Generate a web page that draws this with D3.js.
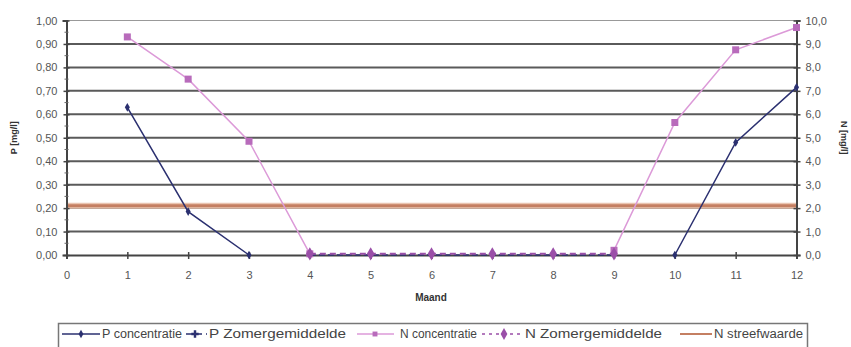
<!DOCTYPE html>
<html>
<head>
<meta charset="utf-8">
<script src="https://cdn.jsdelivr.net/npm/d3@7"></script>
<style>
  html, body { margin: 0; padding: 0; background: #fff; }
  svg { display: block; font-family: "Liberation Sans", Arial, sans-serif; }
</style>
</head>
<body>
<svg id="chart" width="851" height="347"></svg>
<script>
// Months on the x axis
const months = [1, 2, 3, 4, 5, 6, 7, 8, 9, 10, 11, 12];
// P concentration (mg/l, left axis); null = no measurement
const pConcentratie = [0.63, 0.185, 0.0, null, null, null, null, null, null, 0.0, 0.48, 0.715];
// P summer mean (mg/l, left axis)
const pZomergemiddelde = [null, null, null, 0.0, 0.0, 0.0, 0.0, 0.0, 0.0, null, null, null];
// N concentration (mg/l, right axis)
const nConcentratie = [9.3, 7.5, 4.85, 0.05, null, null, null, null, 0.2, 5.65, 8.75, 9.7];
// N summer mean (mg/l, right axis)
const nZomergemiddelde = [null, null, null, 0.05, 0.05, 0.05, 0.05, 0.05, 0.05, null, null, null];
// N target value (mg/l, right axis)
const nStreefwaarde = 2.1;

const xTicks = [0, 1, 2, 3, 4, 5, 6, 7, 8, 9, 10, 11, 12];
const pTicks = [0, 0.1, 0.2, 0.3, 0.4, 0.5, 0.6, 0.7, 0.8, 0.9, 1.0];
const nTicks = [0, 1, 2, 3, 4, 5, 6, 7, 8, 9, 10];

const legendLabels = ["P concentratie", "P Zomergemiddelde", "N concentratie", "N Zomergemiddelde", "N streefwaarde"];

const svg = d3.select("#chart");
const plotL = 66.5, plotR = 796.5, plotT = 20.5, plotB = 255;

const x = d3.scaleLinear().domain([0, 12]).range([plotL, plotR]);
const yP = d3.scaleLinear().domain([0, 1]).range([plotB, plotT]);
const yN = d3.scaleLinear().domain([0, 10]).range([plotB, plotT]);

const fmt2 = d => d3.format(".2f")(d).replace(".", ",");
const fmt1 = d => d3.format(".1f")(d).replace(".", ",");

const textCol = "#555";

// Horizontal gridlines
svg.append("g").selectAll("line").data(pTicks.filter(d => d > 0)).join("line")
  .attr("x1", plotL).attr("x2", plotR)
  .attr("y1", d => yP(d)).attr("y2", d => yP(d))
  .attr("stroke", d => d === 1 ? "#999" : "#5a5a5a")
  .attr("stroke-width", d => d === 1 ? 1 : 2);

// N target line (thick, orange-brown)
svg.append("line")
  .attr("x1", plotL).attr("x2", plotR)
  .attr("y1", yN(nStreefwaarde)).attr("y2", yN(nStreefwaarde))
  .attr("stroke", "#e9c4b0").attr("stroke-width", 6);
svg.append("line")
  .attr("x1", plotL).attr("x2", plotR)
  .attr("y1", yN(nStreefwaarde)).attr("y2", yN(nStreefwaarde))
  .attr("stroke", "#c47f62").attr("stroke-width", 3);

// Left axis
const axL = svg.append("g").attr("transform", `translate(${plotL},0)`)
  .call(d3.axisLeft(yP).tickValues(pTicks).tickFormat(fmt2).tickSize(4).tickPadding(5));
// Right axis
const axR = svg.append("g").attr("transform", `translate(${plotR},0)`)
  .call(d3.axisRight(yN).tickValues(nTicks).tickFormat(fmt1).tickSize(4).tickPadding(5));
// Bottom axis
const axB = svg.append("g").attr("transform", `translate(0,${plotB})`)
  .call(d3.axisBottom(x).tickValues(xTicks).tickFormat(d3.format("d")).tickSize(4).tickPadding(12));

[axL, axR, axB].forEach(g => {
  g.select(".domain").attr("stroke", "#444").attr("stroke-width", 2);
  g.selectAll(".tick line").attr("stroke", "#444").attr("stroke-width", 1.5);
  g.selectAll(".tick text").attr("fill", textCol).attr("font-size", 11).attr("font-family", "Liberation Sans, Arial, sans-serif");
});
axB.selectAll(".tick line").attr("y1", -3);
axL.selectAll(".tick line").attr("x2", 3).attr("x1", -3);
axR.selectAll(".tick line").attr("x1", -3);

// Minor ticks on the left axis
const minor = d3.range(0.05, 1, 0.1);
svg.append("g").selectAll("line").data(minor).join("line")
  .attr("x1", plotL - 2).attr("x2", plotL + 2)
  .attr("y1", d => yP(d)).attr("y2", d => yP(d))
  .attr("stroke", "#666").attr("stroke-width", 1);

// Axis titles
svg.append("text")
  .attr("transform", `translate(17,${(plotT + plotB) / 2}) rotate(-90)`)
  .attr("text-anchor", "middle").attr("font-size", 9).attr("font-weight", "bold").attr("fill", "#333")
  .text("P [mg/l]");
svg.append("text")
  .attr("transform", `translate(841,${(plotT + plotB) / 2}) rotate(90)`)
  .attr("text-anchor", "middle").attr("font-size", 9).attr("font-weight", "bold").attr("fill", "#333")
  .text("N [mg/l]");
svg.append("text")
  .attr("x", 431).attr("y", 301)
  .attr("text-anchor", "middle").attr("font-size", 10).attr("font-weight", "bold").attr("fill", "#333")
  .text("Maand");

// Series styles
const cPConc = "#2b3070";
const cPZom = "#2b3070";
const cNConc = "#dc9ad8";
const cNZom = "#9a4fa8";
const cStreef = "#c47f62";

function drawLine(values, yScale, color, width, dash) {
  const line = d3.line()
    .defined(d => d.v !== null)
    .x(d => x(d.m)).y(d => yScale(d.v));
  const data = months.map((m, i) => ({ m, v: values[i] }));
  svg.append("path").datum(data)
    .attr("fill", "none").attr("stroke", color).attr("stroke-width", width)
    .attr("stroke-dasharray", dash || null)
    .attr("d", line);
  return data.filter(d => d.v !== null);
}

// N concentration (pink) with square markers
const nc = drawLine(nConcentratie, yN, cNConc, 1.5);
svg.append("g").selectAll("rect").data(nc).join("rect")
  .attr("x", d => x(d.m) - 3.5).attr("y", d => yN(d.v) - 3.5)
  .attr("width", 7).attr("height", 7).attr("fill", "#b86bbb");

// P concentration (navy) with diamond markers
const pc = drawLine(pConcentratie, yP, cPConc, 1.5);
svg.append("g").selectAll("path").data(pc).join("path")
  .attr("d", d3.symbol(d3.symbolDiamond, 22))
  .attr("transform", d => `translate(${x(d.m)},${yP(d.v)})`)
  .attr("fill", cPConc);

// P summer mean (navy dashed)
drawLine(pZomergemiddelde, yP, cPZom, 1.5, "6,3");

// N summer mean (purple dashed) with diamond markers
const nz = drawLine(nZomergemiddelde, yN, cNZom, 2, "6,4");
svg.append("g").selectAll("path").data(nz).join("path")
  .attr("d", d3.symbol(d3.symbolDiamond, 50))
  .attr("transform", d => `translate(${x(d.m)},${yN(d.v)})`)
  .attr("fill", cNZom);

// Legend
const legend = svg.append("g");
legend.append("rect")
  .attr("x", 58.5).attr("y", 323.5).attr("width", 749).attr("height", 30)
  .attr("fill", "#fff").attr("stroke", "#777").attr("stroke-width", 1.5);

const legendItems = [
  { x1: 62, x2: 100, mx: 81, tx: 102, tw: 80, color: cPConc, dash: null, marker: "diamond", mColor: cPConc, mSize: 20 },
  { x1: 186, x2: 207, mx: 195, tx: 209, tw: 137, color: cPZom, dash: "6,4", marker: "plus", mColor: cPZom, mSize: 30 },
  { x1: 357, x2: 394, mx: 375, tx: 400, tw: 77, color: cNConc, dash: null, marker: "square", mColor: "#b86bbb", mSize: 24 },
  { x1: 482, x2: 523, mx: 504, tx: 525, tw: 137, color: cNZom, dash: "3,4", marker: "diamond", mColor: cNZom, mSize: 40 },
  { x1: 680, x2: 712, mx: null, tx: 714, tw: 89, color: cStreef, dash: null, marker: null, width: 2 }
];
const ly = 334;
legendItems.forEach((it, i) => {
  legend.append("line")
    .attr("x1", it.x1).attr("x2", it.x2).attr("y1", ly).attr("y2", ly)
    .attr("stroke", it.color).attr("stroke-width", it.width || 1.5)
    .attr("stroke-dasharray", it.dash);
  if (it.marker) {
    const sym = it.marker === "diamond" ? d3.symbolDiamond : it.marker === "plus" ? d3.symbolCross : d3.symbolSquare;
    legend.append("path")
      .attr("d", d3.symbol(sym, it.mSize))
      .attr("transform", `translate(${it.mx},${ly})`)
      .attr("fill", it.mColor);
  }
  legend.append("text")
    .attr("x", it.tx).attr("y", ly + 4)
    .attr("font-size", 12).attr("fill", "#444")
    .attr("textLength", it.tw).attr("lengthAdjust", "spacingAndGlyphs")
    .text(legendLabels[i]);
});
</script>
</body>
</html>
